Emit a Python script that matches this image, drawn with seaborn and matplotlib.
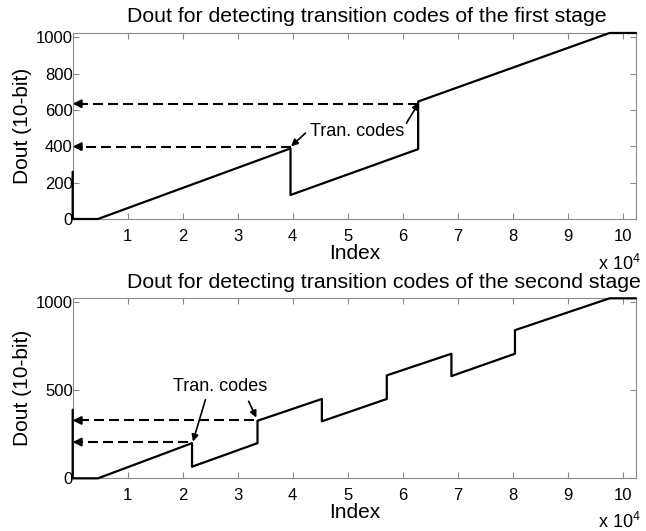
import matplotlib
matplotlib.use("Agg")
import matplotlib.pyplot as plt
import seaborn as sns
import pandas as pd
from matplotlib.ticker import FuncFormatter

# Piecewise-linear output codes vs. sample index for the two stages
index_stage1 = [0, 1, 4600, 39600, 39600, 62800, 62800, 97600, 102400]
dout_stage1 = [260, 0, 0, 388, 132, 384, 646, 1023, 1023]

index_stage2 = [0, 1, 4600, 21700, 21700, 33600, 33600, 45300, 45300,
                57100, 57100, 68850, 68850, 80400, 80400, 97600, 102400]
dout_stage2 = [390, 0, 0, 200, 66, 200, 327, 451, 324,
               451, 585, 708, 581, 708, 842, 1023, 1023]

# Transition codes marked with dashed arrows: (index where detected, code)
trans_index_1 = [39600, 62700]
trans_code_1 = [398, 634]
trans_index_2 = [21000, 33000]
trans_code_2 = [206, 329]

titles = ["Dout for detecting transition codes of the first stage",
          "Dout for detecting transition codes of the second stage"]
yticks_list = [[0, 200, 400, 600, 800, 1000], [0, 500, 1000]]
xticks = [10000 * k for k in range(1, 11)]

sns.set_style("ticks")
plt.rcParams["font.family"] = ["Liberation Sans", "DejaVu Sans"]
plt.rcParams["mathtext.fontset"] = "custom"
plt.rcParams["mathtext.rm"] = "Liberation Sans"
plt.rcParams["text.color"] = "black"
plt.rcParams["axes.labelcolor"] = "black"

FRAME = "#8a8a8a"

fig = plt.figure(figsize=(6.46, 5.31), dpi=100)
ax1 = fig.add_axes([0.1125, 0.5876, 0.872, 0.3503])
ax2 = fig.add_axes([0.1125, 0.0992, 0.872, 0.339])

df1 = pd.DataFrame({"Index": index_stage1, "Dout": dout_stage1})
df2 = pd.DataFrame({"Index": index_stage2, "Dout": dout_stage2})

panels = [
    (ax1, df1, trans_index_1, trans_code_1, yticks_list[0], titles[0]),
    (ax2, df2, trans_index_2, trans_code_2, yticks_list[1], titles[1]),
]

for ax, df, tix, tcode, yt, title in panels:
    sns.lineplot(data=df, x="Index", y="Dout", ax=ax, sort=False,
                 estimator=None, color="black", linewidth=1.6)
    for ln in ax.get_lines():
        ln.set_clip_on(False)
        ln.set_zorder(4)
    # dashed guide lines back to the y axis, each ending in an arrowhead
    for xi, code in zip(tix, tcode):
        ax.plot([xi, 1200], [code, code], color="black", linewidth=1.5,
                dashes=(4.8, 2.4))
        ax.annotate("", xy=(0, code), xytext=(1600, code),
                    arrowprops=dict(arrowstyle="-|>", color="black",
                                    lw=1.5, mutation_scale=12,
                                    shrinkA=0, shrinkB=0))
    ax.set_xlim(0, 102400)
    ax.set_ylim(0, 1023)
    ax.set_xticks(xticks)
    ax.xaxis.set_major_formatter(FuncFormatter(lambda v, p: f"{v / 1e4:.0f}"))
    ax.set_yticks(yt)
    ax.tick_params(direction="in", length=4, width=0.8, color=FRAME,
                   top=True, right=True, labelsize=12, labelcolor="black")
    ax.tick_params(axis="x", pad=7)
    ax.tick_params(axis="y", pad=0)
    for sp in ax.spines.values():
        sp.set_visible(True)
        sp.set_color(FRAME)
        sp.set_linewidth(0.8)
    ax.set_xlabel("Index", fontsize=15, labelpad=0)
    ax.set_ylabel("Dout (10-bit)", fontsize=15, labelpad=3)
    ax.text(0.096, 1.06, title, transform=ax.transAxes, ha="left",
            va="baseline", fontsize=15.3)
    ax.text(1.008, -0.24, r"x 10$^{\mathregular{4}}$", transform=ax.transAxes,
            ha="right", va="center", fontsize=13)

# Labels pointing at the transition codes
arrow_kw = dict(arrowstyle="-|>", color="black", lw=1.2, mutation_scale=10,
                shrinkA=0, shrinkB=0)
ax1.text(51780, 481, "Tran. codes", ha="center", va="center", fontsize=13)
ax1.annotate("", xy=(39700, 400), xytext=(42300, 472), arrowprops=arrow_kw)
ax1.annotate("", xy=(62950, 640), xytext=(60660, 527), arrowprops=arrow_kw)

ax2.text(26870, 523, "Tran. codes", ha="center", va="center", fontsize=13)
ax2.annotate("", xy=(21860, 209), xytext=(24130, 447), arrowprops=arrow_kw)
ax2.annotate("", xy=(33390, 345), xytext=(31980, 438), arrowprops=arrow_kw)

fig.savefig("out.png", dpi=100)
